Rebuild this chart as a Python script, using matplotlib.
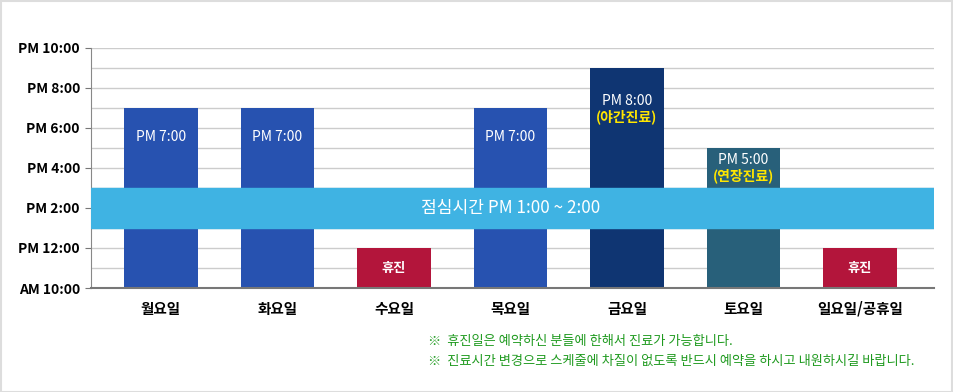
import matplotlib.pyplot as plt
from matplotlib.patches import Rectangle

plt.rcParams['font.family'] = ['Noto Sans CJK KR', 'DejaVu Sans']

# 요일별 진료 종료 시간 (시작은 AM 10:00)
days = ['월요일', '화요일', '수요일', '목요일', '금요일', '토요일', '일요일/공휴일']
end_hours = [19, 19, 12, 19, 21, 17, 12]
bar_labels = ['PM 7:00', 'PM 7:00', '휴진', 'PM 7:00', 'PM 8:00', 'PM 5:00', '휴진']
sub_labels = ['', '', '', '', '(야간진료)', '(연장진료)', '']
bar_colors = ['#2752b0', '#2752b0', '#b3153b', '#2752b0', '#0f3572', '#28607a', '#b3153b']
start_hour = 10

yticks = [10, 12, 14, 16, 18, 20, 22]
ytick_labels = ['AM 10:00', 'PM 12:00', 'PM 2:00', 'PM 4:00', 'PM 6:00', 'PM 8:00', 'PM 10:00']

lunch = (13, 15)
lunch_text = '점심시간 PM 1:00 ~ 2:00'
notes = ['※  휴진일은 예약하신 분들에 한해서 진료가 가능합니다.',
         '※  진료시간 변경으로 스케줄에 차질이 없도록 반드시 예약을 하시고 내원하시길 바랍니다.']

fig = plt.figure(figsize=(9.54, 3.92), dpi=100)
ax = fig.add_axes([0.0954, 0.2653, 0.8836, 0.6123])

# 격자 (1시간 간격)
for h in range(11, 23):
    ax.axhline(h, color='#cccccc', lw=1, zorder=0)

x = list(range(len(days)))
ax.bar(x, [e - start_hour for e in end_hours], bottom=start_hour, width=0.63,
       color=bar_colors, zorder=2)

# 점심시간 띠
ax.axhspan(lunch[0], lunch[1], color='#3fb3e3', zorder=3)
ax.text(3, (lunch[0] + lunch[1]) / 2, lunch_text, color='white', fontsize=12.3,
        ha='center', va='center', zorder=4)

for i, (e, lab, sub) in enumerate(zip(end_hours, bar_labels, sub_labels)):
    if lab == '휴진':
        ax.text(i, 11, lab, color='white', fontsize=9.5, fontweight='bold',
                ha='center', va='center', zorder=4)
    elif sub:
        # 금요일은 위쪽 여유가 있고 토요일은 띠 바로 위에 붙음
        off = 1.65 if e > 19 else 0.6
        ax.text(i, e - off, lab, color='white', fontsize=10,
                ha='center', va='center', zorder=4)
        ax.text(i, e - off - 0.8, sub, color='#ffe600', fontsize=10, fontweight='bold',
                ha='center', va='center', zorder=4)
    else:
        ax.text(i, e - 1.45, lab, color='white', fontsize=10,
                ha='center', va='center', zorder=4)

ax.set_xlim(-0.6, 6.635)
ax.set_ylim(10, 22)
ax.set_yticks(yticks)
ax.set_yticklabels(ytick_labels, fontsize=10, fontweight='bold')
ax.set_xticks(x)
ax.set_xticklabels(days, fontsize=10.5, fontweight='bold')
ax.tick_params(axis='x', length=0, pad=9)
ax.tick_params(axis='y', length=4, color='#777777', pad=4)
for s in ['top', 'right']:
    ax.spines[s].set_visible(False)
ax.spines['left'].set_color('#888888')
ax.spines['bottom'].set_color('#777777')
ax.spines['bottom'].set_linewidth(1.5)
ax.spines['bottom'].set_zorder(5)

for j, n in enumerate(notes):
    fig.text(428 / 954, 1 - (341 + j * 20) / 392, n, color='#1f9a1f',
             fontsize=9.5, ha='left', va='center')

# 바깥 테두리
fig.patches.append(Rectangle((0.001, 0.001), 0.997, 0.997, transform=fig.transFigure,
                             fill=False, edgecolor='#dddddd', lw=1.5))

plt.savefig('out.png', dpi=100)
